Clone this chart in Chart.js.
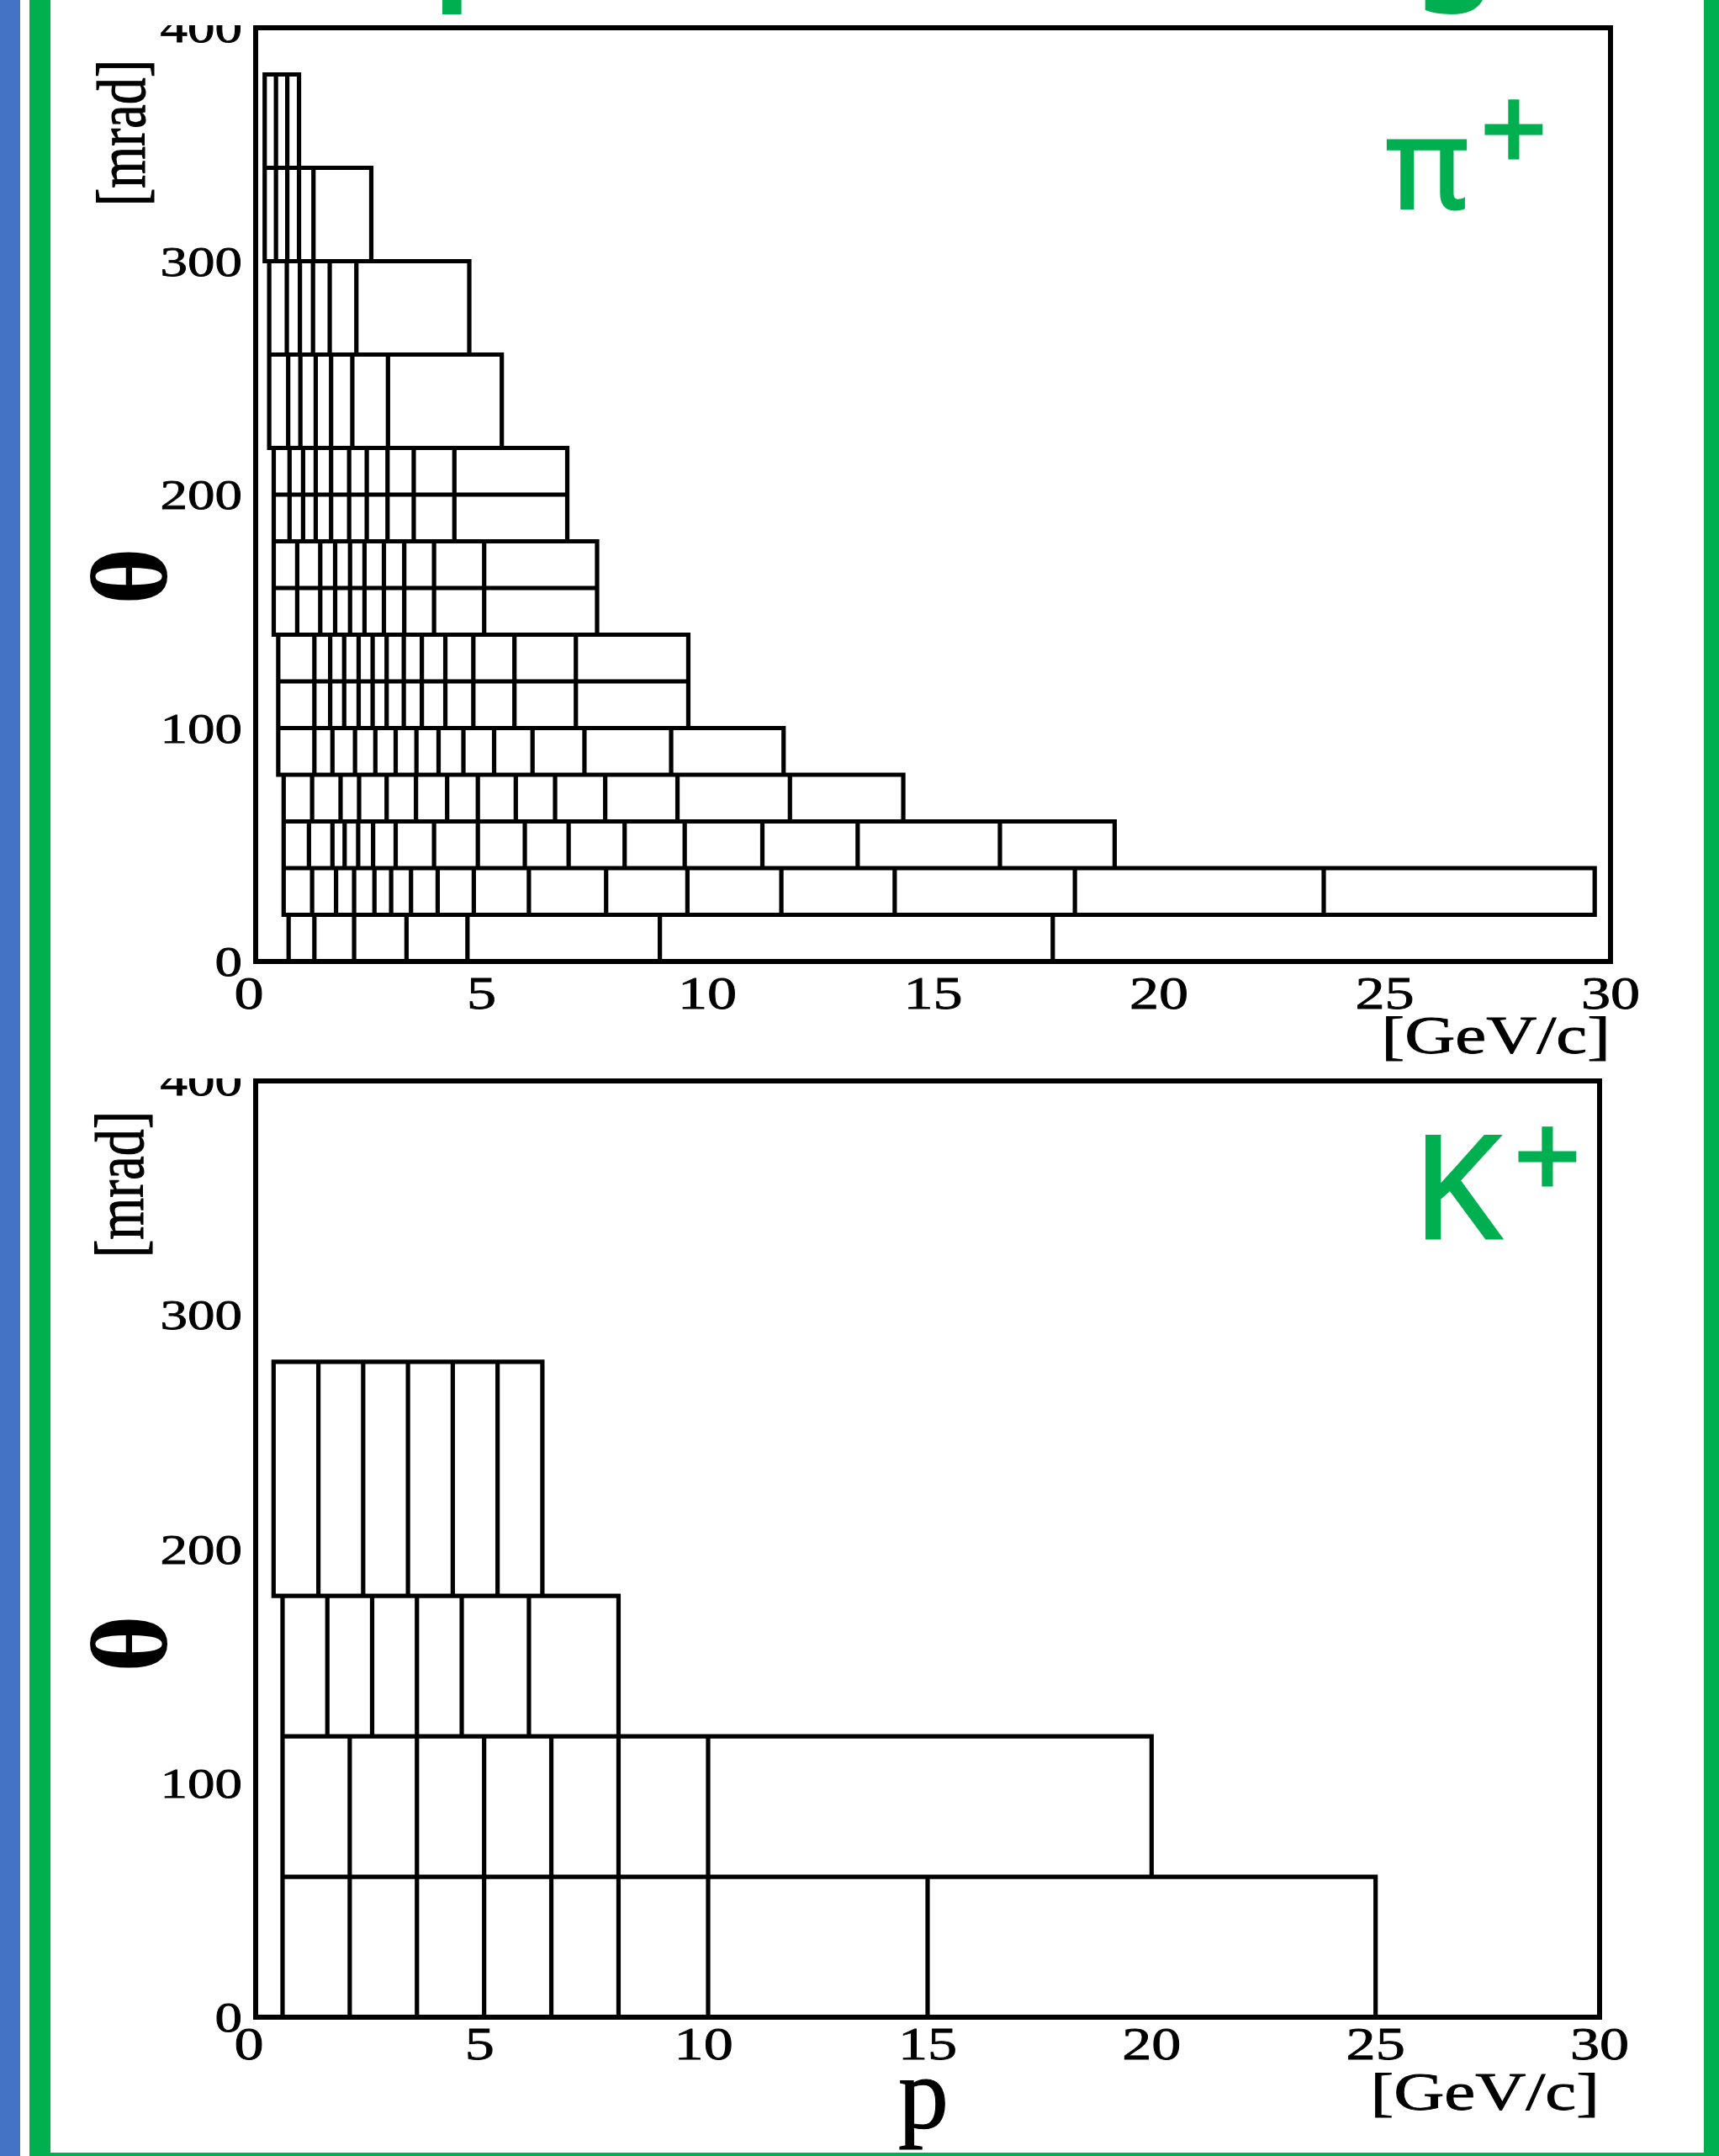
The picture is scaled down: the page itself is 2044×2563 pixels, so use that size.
<!DOCTYPE html>
<html>
<head>
<meta charset="utf-8">
<script src="https://cdn.jsdelivr.net/npm/chart.js@4.4.1/dist/chart.umd.min.js"></script>
<style>
  html, body { margin: 0; padding: 0; background: #fff; }
  body { width: 2044px; height: 2563px; position: relative; overflow: hidden; }
  .strip { position: absolute; }
  canvas { position: absolute; left: 0; }
</style>
</head>
<body>
<div class="strip" style="left:0;top:0;width:24px;height:2563px;background:#4472C4"></div>
<div class="strip" style="left:35px;top:0;width:25px;height:2563px;background:#00B050"></div>
<div class="strip" style="left:2026px;top:0;width:18px;height:2563px;background:#00B050"></div>
<div class="strip" style="left:35px;top:2559px;width:2009px;height:4px;background:#00B050"></div>
<canvas id="piChart" width="2044" height="1280" style="top:0"></canvas>
<canvas id="kChart" width="2044" height="1283" style="top:1280px"></canvas>
<script>
// axis ticks
const xTicks = [0, 5, 10, 15, 20, 25, 30];
const yTicks = [0, 100, 200, 300, 400];

// pi+ : theta row edges [mrad], then the p edges [GeV/c] of each row (bottom to top)
const piThetaEdges = [0, 20, 40, 60, 80, 100, 120, 140, 160, 180, 200, 220, 260, 300, 340, 380];
const piP0 = [0.73, 1.3, 2.18, 3.34, 4.69, 8.95, 17.65];
const piP20 = [0.62, 1.25, 1.78, 2.18, 2.63, 3.0, 3.44, 4.03, 4.83, 6.05, 7.76, 9.56, 11.64, 14.15, 18.14, 23.65, 29.65];
const piP40 = [0.62, 1.18, 1.7, 1.97, 2.27, 2.6, 3.1, 3.95, 4.92, 5.96, 6.93, 8.17, 9.5, 11.22, 13.33, 16.48, 19.02];
const piP60 = [0.62, 1.25, 1.88, 2.29, 2.9, 3.55, 4.24, 4.92, 5.76, 6.63, 7.74, 9.34, 11.83, 14.34];
const piP80 = [0.5, 1.3, 1.7, 2.2, 2.65, 3.1, 3.56, 4.05, 4.6, 5.28, 6.13, 7.28, 9.2, 11.69];
const piP100 = [0.5, 1.3, 1.65, 1.96, 2.28, 2.59, 2.9, 3.28, 3.68, 4.2, 4.82, 5.73, 7.09, 9.58];
const piP120 = [0.5, 1.3, 1.65, 1.96, 2.28, 2.59, 2.9, 3.28, 3.68, 4.2, 4.82, 5.73, 7.09, 9.58];
const piP140 = [0.4, 0.92, 1.43, 1.76, 2.09, 2.41, 2.84, 3.29, 3.95, 5.06, 7.56];
const piP160 = [0.4, 0.92, 1.43, 1.76, 2.09, 2.41, 2.84, 3.29, 3.95, 5.06, 7.56];
const piP180 = [0.4, 0.75, 1.05, 1.33, 1.67, 2.07, 2.46, 2.92, 3.5, 4.4, 6.9];
const piP200 = [0.4, 0.75, 1.05, 1.33, 1.67, 2.07, 2.46, 2.92, 3.5, 4.4, 6.9];
const piP220 = [0.3, 0.72, 0.99, 1.33, 1.67, 2.14, 2.93, 5.45];
const piP260 = [0.3, 0.69, 0.98, 1.27, 1.64, 2.23, 4.73];
const piP300 = [0.2, 0.45, 0.7, 0.96, 1.28, 2.56];
const piP340 = [0.2, 0.45, 0.7, 0.96];
const piRows = [piP0, piP20, piP40, piP60, piP80, piP100, piP120, piP140, piP160, piP180, piP200, piP220, piP260, piP300, piP340];

// K+
const kThetaEdges = [0, 60, 120, 180, 280];
const kP0 = [0.6, 2.1, 3.6, 5.1, 6.6, 8.1, 10.1, 15, 25];
const kP60 = [0.6, 2.1, 3.6, 5.1, 6.6, 8.1, 10.1, 20];
const kP120 = [0.6, 1.6, 2.6, 3.6, 4.6, 6.1, 8.1];
const kP180 = [0.4, 1.4, 2.4, 3.4, 4.4, 5.4, 6.4];
const kRows = [kP0, kP60, kP120, kP180];

const GREEN = '#00B050';

// every cell becomes a closed outline, cells are separated by a null point (gap)
function cellOutlines(thetaEdges, rows) {
  const pts = [];
  rows.forEach((edges, i) => {
    const lo = thetaEdges[i], hi = thetaEdges[i + 1];
    for (let j = 0; j < edges.length - 1; j++) {
      const a = edges[j], b = edges[j + 1];
      pts.push({x: a, y: lo}, {x: a, y: hi}, {x: b, y: hi}, {x: b, y: lo}, {x: a, y: lo}, {x: a, y: null});
    }
  });
  return pts;
}

// the original figure is stretched horizontally, so text gets an x scale
function drawText(ctx, text, x, y, o) {
  ctx.save();
  ctx.translate(x, y);
  ctx.scale(o.sx || 1, 1);
  if (o.rotate) ctx.rotate(-Math.PI / 2);
  ctx.font = o.font;
  ctx.fillStyle = o.color || '#000';
  ctx.textAlign = o.align || 'left';
  ctx.textBaseline = 'alphabetic';
  ctx.fillText(text, 0, 0);
  if (o.heavy) {
    ctx.strokeStyle = o.color || '#000';
    ctx.lineWidth = o.heavy;
    ctx.strokeText(text, 0, 0);
  }
  ctx.restore();
}

function decorPlugin(cfg) {
  return {
    id: 'decor',
    afterDatasetsDraw(chart) {
      const {ctx, chartArea: a} = chart;
      ctx.save();
      ctx.lineWidth = 6;
      ctx.strokeStyle = '#000';
      ctx.strokeRect(a.left, a.top, a.right - a.left, a.bottom - a.top);
      ctx.restore();
    },
    afterDraw(chart) {
      const {ctx, chartArea: a} = chart;
      const xs = chart.scales.x, ys = chart.scales.y;

      // y tick labels (the top one is cut off like in the original)
      ctx.save();
      ctx.beginPath();
      ctx.rect(0, a.top - 3, chart.width, chart.height);
      ctx.clip();
      yTicks.forEach(v => drawText(ctx, String(v), a.left - 16, ys.getPixelForValue(v) + 17,
        {font: '50px "Liberation Serif"', sx: 1.3, align: 'right', heavy: 0.8}));
      ctx.restore();

      xTicks.forEach(v => drawText(ctx, String(v), xs.getPixelForValue(v) - (v === 0 ? 8 : 0), a.bottom + cfg.xTickDrop,
        {font: '54px "Liberation Serif"', sx: 1.3, align: 'center', heavy: 0.8}));

      drawText(ctx, '[GeV/c]', a.right, cfg.unitX, {font: '64px "Liberation Serif"', sx: 1.3, align: 'right', heavy: 0.8});
      drawText(ctx, '[mrad]', cfg.mradX, cfg.mradY, {font: '64px "Liberation Serif"', sx: 1.3, align: 'center', rotate: true, heavy: 0.8});
      drawText(ctx, 'θ', cfg.thetaX, cfg.thetaY, {font: 'bold 130px "Liberation Serif"', align: 'center', rotate: true});

      // particle label
      drawText(ctx, cfg.particle, cfg.partX, cfg.partY, {font: cfg.partFont, color: GREEN, heavy: 3});
      drawText(ctx, '+', cfg.plusX, cfg.plusY, {font: '140px "Noto Sans"', color: GREEN, heavy: 3});

      if (cfg.extra) cfg.extra(ctx);
    }
  };
}

function makeChart(id, thetaEdges, rows, padding, cfg) {
  return new Chart(document.getElementById(id), {
    type: 'scatter',
    data: {
      datasets: [{
        data: cellOutlines(thetaEdges, rows),
        showLine: true,
        spanGaps: false,
        borderColor: '#000',
        borderWidth: 5.2,
        borderJoinStyle: 'miter',
        borderCapStyle: 'square',
        pointRadius: 0,
        tension: 0
      }]
    },
    options: {
      responsive: false,
      animation: false,
      events: [],
      layout: {padding: padding},
      plugins: {legend: {display: false}, tooltip: {enabled: false}},
      scales: {
        x: {type: 'linear', min: 0, max: 30, display: false},
        y: {type: 'linear', min: 0, max: 400, display: false}
      }
    },
    plugins: [decorPlugin(cfg)]
  });
}

makeChart('piChart', piThetaEdges, piRows, {left: 304, right: 129, top: 33, bottom: 137}, {
  xTickDrop: 56,
  unitX: 1252,
  mradX: 172, mradY: 158,
  thetaX: 198, thetaY: 685,
  particle: 'π', partFont: '150px "Noto Sans"', partX: 1648, partY: 248,
  plusX: 1760, plusY: 204,
  extra(ctx) {
    // descenders of the title that sits above the visible area
    drawText(ctx, 'p', 515, -19, {font: 'bold 150px "Noto Sans"', color: GREEN});
    drawText(ctx, 'g', 1683, -19, {font: 'bold 150px "Noto Sans"', color: GREEN});
  }
});

makeChart('kChart', kThetaEdges, kRows, {left: 304, right: 142, top: 5, bottom: 165}, {
  xTickDrop: 50,
  unitX: 1228,
  mradX: 170, mradY: 128,
  thetaX: 198, thetaY: 674,
  particle: 'K', partFont: '170px "Noto Sans"', partX: 1680, partY: 192,
  plusX: 1800, plusY: 145,
  extra(ctx) {
    drawText(ctx, 'p', 1098, 1249, {font: '120px "Liberation Serif"', align: 'center', heavy: 1});
  }
});
</script>
</body>
</html>
